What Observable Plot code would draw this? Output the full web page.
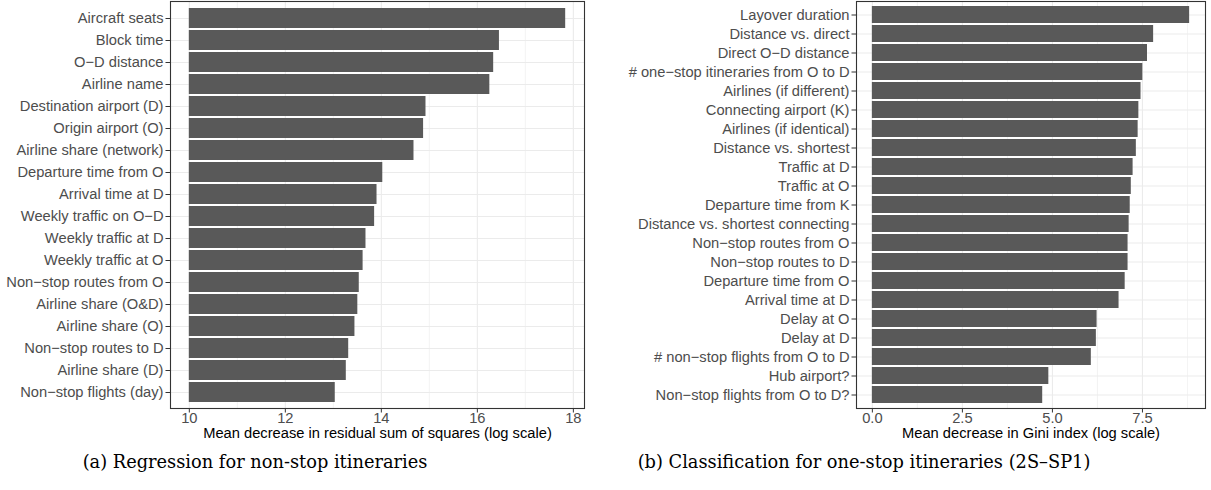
<!DOCTYPE html>
<html><head><meta charset="utf-8">
<script src="https://cdn.jsdelivr.net/npm/d3@7"></script>
<script src="https://cdn.jsdelivr.net/npm/@observablehq/plot@0.6"></script>
<style>
body{margin:0;background:#fff;}
#wrap{position:relative;width:1211px;height:490px;overflow:hidden;background:#fff;}
.chart{position:absolute;top:0;}
.cap{position:absolute;top:451px;width:600px;text-align:center;font-family:"DejaVu Serif","Liberation Serif",serif;font-size:17.8px;color:#000;line-height:22px;}
</style></head>
<body><div id="wrap"><div id="a" class="chart" style="left:0"></div><div id="b" class="chart" style="left:600px"></div>
<div class="cap" style="left:-45px">(a) Regression for non-stop itineraries</div>
<div class="cap" style="left:564px">(b) Classification for one-stop itineraries (2S–SP1)</div></div>
<script>
// Panel (a): regression for non-stop itineraries
const namesA = ["Aircraft seats","Block time","O−D distance","Airline name","Destination airport (D)","Origin airport (O)","Airline share (network)","Departure time from O","Arrival time at D","Weekly traffic on O−D","Weekly traffic at D","Weekly traffic at O","Non−stop routes from O","Airline share (O&D)","Airline share (O)","Non−stop routes to D","Airline share (D)","Non−stop flights (day)"];
const valuesA = [17.84,16.46,16.34,16.26,14.93,14.88,14.68,14.03,13.91,13.86,13.68,13.62,13.54,13.51,13.45,13.32,13.27,13.04];
const baseA = 10;
const ticksA = [10,12,14,16,18];
const minorA = [11,13,15,17];
const titleA = "Mean decrease in residual sum of squares (log scale)";

// Panel (b): classification for one-stop itineraries
const namesB = ["Layover duration","Distance vs. direct","Direct O−D distance","# one−stop itineraries from O to D","Airlines (if different)","Connecting airport (K)","Airlines (if identical)","Distance vs. shortest","Traffic at D","Traffic at O","Departure time from K","Distance vs. shortest connecting","Non−stop routes from O","Non−stop routes to D","Departure time from O","Arrival time at D","Delay at O","Delay at D","# non−stop flights from O to D","Hub airport?","Non−stop flights from O to D?"];
const valuesB = [8.81,7.81,7.64,7.51,7.46,7.40,7.38,7.33,7.24,7.19,7.16,7.13,7.10,7.10,7.02,6.85,6.24,6.22,6.08,4.90,4.73];
const baseB = 0;
const ticksB = [0,2.5,5,7.5];
const minorB = [1.25,3.75,6.25,8.75];
const titleB = "Mean decrease in Gini index (log scale)";

function chart({names, values, base, ticks, minor, title, width, marginLeft, marginRight, tickFormat}) {
  const data = names.map((n, i) => ({name: n, value: values[i]}));
  const hi = d3.max(values), pad = (hi - base) * 0.05;
  const height = 450;
  const fs = 14.7;
  return Plot.plot({
    width, height, marginTop: 1, marginBottom: height - 408, marginLeft, marginRight,
    style: {fontFamily: "'Liberation Sans', Arial, sans-serif", fontSize: fs + "px", background: "#fff", overflow: "visible"},
    x: {domain: [base - pad, hi + pad]},
    y: {domain: names, paddingInner: 0.1, paddingOuter: 0.15},
    marks: [
      Plot.ruleX(minor, {stroke: "#EBEBEB", strokeWidth: 0.6}),
      Plot.ruleX(ticks, {stroke: "#EBEBEB", strokeWidth: 1.1}),
      Plot.ruleY(names, {stroke: "#EBEBEB", strokeWidth: 1.1}),
      Plot.barX(data, {x1: base, x2: "value", y: "name", fill: "#595959"}),
      Plot.frame({stroke: "#333333", strokeWidth: 1.1}),
      Plot.axisX({ticks, tickFormat, tickSize: 4.5, tickPadding: 0, fill: "#4D4D4D", stroke: "#333333", fontSize: fs, label: null}),
      Plot.axisY({tickSize: 4.5, tickPadding: 2.5, fill: "#4D4D4D", stroke: "#333333", fontSize: fs, label: null}),
      Plot.text([title], {frameAnchor: "bottom", dy: 29.5, fill: "#000", fontSize: fs})
    ]
  });
}

document.getElementById("a").append(chart({names: namesA, values: valuesA, base: baseA, ticks: ticksA, minor: minorA, title: titleA, width: 600, marginLeft: 170, marginRight: 16, tickFormat: d3.format("d")}));
document.getElementById("b").append(chart({names: namesB, values: valuesB, base: baseB, ticks: ticksB, minor: minorB, title: titleB, width: 611, marginLeft: 256, marginRight: 6, tickFormat: d3.format(".1f")}));
</script>
</body></html>
